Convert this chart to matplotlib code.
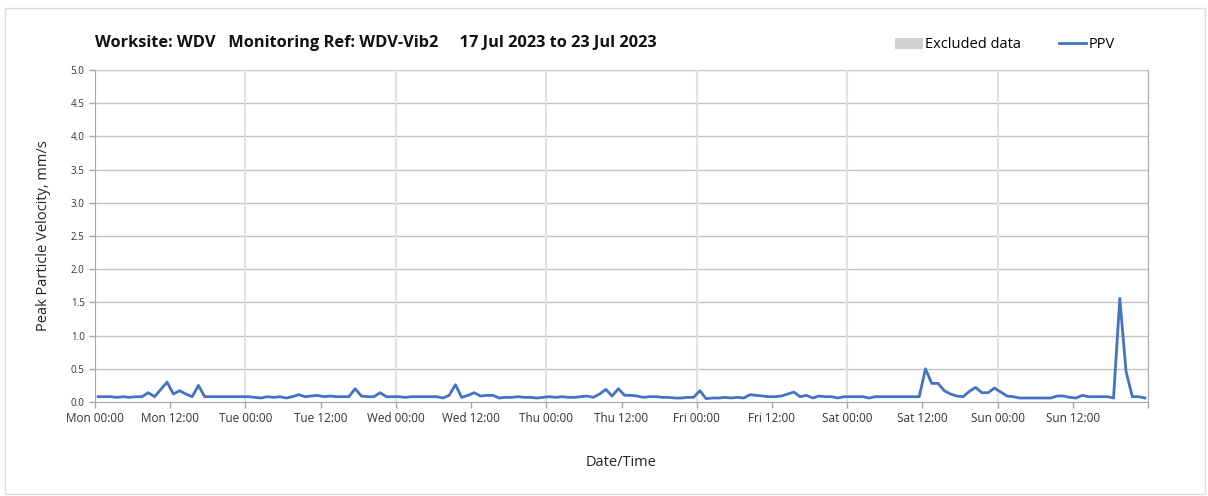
import numpy as np
import pandas as pd
import matplotlib
matplotlib.use("Agg")
import matplotlib.pyplot as plt
import matplotlib.dates as mdates
from matplotlib.patches import Patch, Rectangle
from matplotlib.lines import Line2D

# hourly PPV readings (mm/s), first reading at Mon 00:30
ppv = [
    # Mon
    0.08, 0.08, 0.08, 0.07, 0.08, 0.07, 0.08, 0.08, 0.14, 0.08, 0.19, 0.30,
    0.12, 0.17, 0.12, 0.08, 0.25, 0.08, 0.08, 0.08, 0.08, 0.08, 0.08, 0.08,
    # Tue
    0.08, 0.07, 0.06, 0.08, 0.07, 0.08, 0.06, 0.08, 0.11, 0.08, 0.09, 0.10,
    0.08, 0.09, 0.08, 0.08, 0.08, 0.20, 0.09, 0.08, 0.08, 0.14, 0.08, 0.08,
    # Wed
    0.08, 0.07, 0.08, 0.08, 0.08, 0.08, 0.08, 0.06, 0.10, 0.26, 0.07, 0.10,
    0.14, 0.09, 0.10, 0.10, 0.06, 0.07, 0.07, 0.08, 0.07, 0.07, 0.06, 0.07,
    # Thu
    0.08, 0.07, 0.08, 0.07, 0.07, 0.08, 0.09, 0.07, 0.12, 0.19, 0.09, 0.20,
    0.10, 0.10, 0.09, 0.07, 0.08, 0.08, 0.07, 0.07, 0.06, 0.06, 0.07, 0.07,
    # Fri
    0.17, 0.05, 0.06, 0.06, 0.07, 0.06, 0.07, 0.06, 0.11, 0.10, 0.09, 0.08,
    0.08, 0.09, 0.12, 0.15, 0.08, 0.10, 0.06, 0.09, 0.08, 0.08, 0.06, 0.08,
    # Sat
    0.08, 0.08, 0.08, 0.06, 0.08, 0.08, 0.08, 0.08, 0.08, 0.08, 0.08, 0.08,
    0.50, 0.28, 0.28, 0.17, 0.12, 0.09, 0.08, 0.16, 0.22, 0.14, 0.14, 0.21,
    # Sun
    0.15, 0.09, 0.08, 0.06, 0.06, 0.06, 0.06, 0.06, 0.06, 0.09, 0.09, 0.07,
    0.06, 0.10, 0.08, 0.08, 0.08, 0.08, 0.06, 1.56, 0.46, 0.08, 0.08, 0.06,
]
times = pd.date_range("2023-07-17 00:30", periods=len(ppv), freq="h")

title = "Worksite: WDV   Monitoring Ref: WDV-Vib2     17 Jul 2023 to 23 Jul 2023"
y_ticks = [0.0, 0.5, 1.0, 1.5, 2.0, 2.5, 3.0, 3.5, 4.0, 4.5, 5.0]

plt.rcParams['font.family'] = ['Open Sans', 'DejaVu Sans']

fig = plt.figure(figsize=(12.08, 4.96), dpi=100)
fig.patches.append(Rectangle((5 / 1208, 2 / 496), 1200 / 1208, 486 / 496,
                             transform=fig.transFigure, fill=False,
                             edgecolor="#dcdcdc", linewidth=1))
ax = fig.add_axes([95 / 1208, 1 - 402 / 496, 1053 / 1208, 332 / 496])

ax.plot(times, ppv, color="#4472C4", linewidth=2.0, zorder=3)

start = pd.Timestamp("2023-07-17")
end = pd.Timestamp("2023-07-24")
ax.set_xlim(start, end)
ax.set_ylim(0, 5.0)

ticks = pd.date_range(start, end, freq="12h")
ax.set_xticks(ticks)
ax.set_xticklabels([t.strftime("%a %H:%M") if t < end else "" for t in ticks],
                   fontsize=8.5, color="#333333")
ax.set_yticks(y_ticks)
ax.set_yticklabels([f"{v:.1f}" for v in y_ticks], fontsize=7, color="#333333")

# grid: grey horizontals, faint verticals at midnight only
for v in y_ticks[1:]:
    ax.axhline(v, color="#c4c4c4", linewidth=1, zorder=1)
for t in pd.date_range(start, end, freq="24h")[1:-1]:
    ax.axvline(t, color="#e2e2e2", linewidth=1.5, zorder=1)

for side in ["left", "bottom", "right"]:
    ax.spines[side].set_color("#a6a6a6")
ax.spines["top"].set_visible(False)
ax.tick_params(axis="both", color="#a6a6a6", length=4, width=1)

ax.set_xlabel("Date/Time", fontsize=10.5, labelpad=21, color="#222222")
ax.set_ylabel("Peak Particle Velocity, mm/s", fontsize=10.5, labelpad=14,
              color="#222222")

fig.text(95 / 1208, 1 - 43 / 496, title, fontsize=11.8, fontweight="bold",
         va="center", ha="left", color="#111111")

handles = [Patch(facecolor="#d0d0d0", edgecolor="none"),
           Line2D([0], [0], color="#4472C4", linewidth=2.0)]
fig.legend(handles, ["Excluded data", "PPV"], loc="center right",
           bbox_to_anchor=(1128 / 1208, 1 - 45 / 496), ncol=2, frameon=False,
           fontsize=10.5, handlelength=1.9, columnspacing=2.6,
           handletextpad=0.15)

fig.savefig("out.png", dpi=100)
